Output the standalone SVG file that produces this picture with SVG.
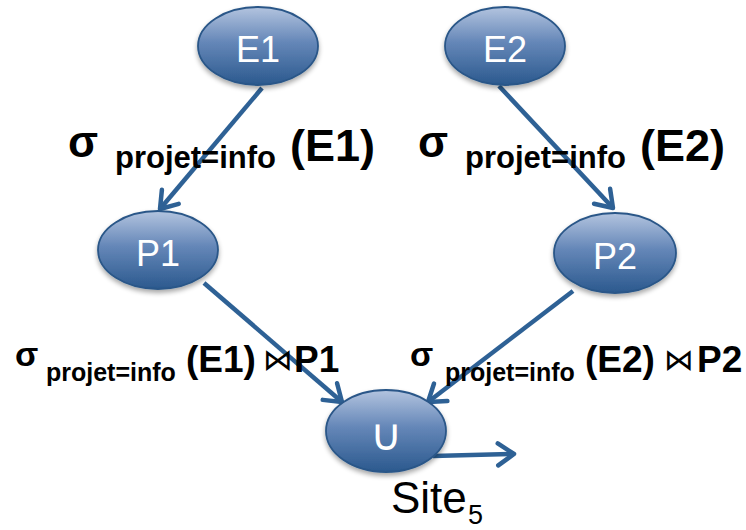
<svg xmlns="http://www.w3.org/2000/svg" width="746" height="530" viewBox="0 0 746 530">
  <defs>
    <linearGradient id="nodeFill" x1="0" y1="0" x2="0" y2="1">
      <stop offset="0" stop-color="#b3c4df"/>
      <stop offset="0.45" stop-color="#6587b8"/>
      <stop offset="1" stop-color="#2b598e"/>
    </linearGradient>
    <filter id="shadow" x="-20%" y="-20%" width="140%" height="150%">
      <feGaussianBlur in="SourceAlpha" stdDeviation="2.5"/>
      <feOffset dx="0" dy="3" result="b"/>
      <feComponentTransfer><feFuncA type="linear" slope="0.35"/></feComponentTransfer>
      <feMerge><feMergeNode/><feMergeNode in="SourceGraphic"/></feMerge>
    </filter>
    <marker id="chevron" markerUnits="userSpaceOnUse" viewBox="-22 -16 26 32" markerWidth="26" markerHeight="32" refX="0" refY="0" orient="auto">
      <path d="M-16,-11 L0,0 L-16,11" fill="none" stroke="#2e6195" stroke-width="4.5" stroke-linecap="round" stroke-linejoin="round"/>
    </marker>
  </defs>
  <style>
    .node ellipse { fill: url(#nodeFill); stroke: #2a5788; stroke-width: 1.8; filter: url(#shadow); }
    .node text { font-family: "Liberation Sans", Arial, sans-serif; font-size: 36px; fill: #ffffff; text-anchor: middle; }
    .conn line { stroke: #2e6195; stroke-width: 4.5; marker-end: url(#chevron); }
    .lbl { font-family: "Liberation Sans", Arial, "DejaVu Sans", sans-serif; font-weight: bold; fill: #000000; }
    .join { font-family: "DejaVu Sans", sans-serif; font-weight: normal; }
  </style>

  <!-- connectors -->
  <g id="connectors" class="conn">
    <line x1="262" y1="88" x2="160" y2="209"/>
    <line x1="499" y1="86" x2="613" y2="208"/>
    <line x1="204" y1="283" x2="342" y2="402"/>
    <line x1="573" y1="291" x2="428" y2="402"/>
    <line x1="433" y1="456" x2="514" y2="454"/>
  </g>

  <!-- nodes -->
  <g id="E1" class="node">
    <ellipse cx="258" cy="46" rx="60" ry="39"/>
    <text x="258" y="62">E1</text>
  </g>
  <g id="E2" class="node">
    <ellipse cx="505" cy="46" rx="60" ry="39"/>
    <text x="505" y="62">E2</text>
  </g>
  <g id="P1" class="node">
    <ellipse cx="158" cy="250" rx="60" ry="39"/>
    <text x="158" y="266">P1</text>
  </g>
  <g id="P2" class="node">
    <ellipse cx="615" cy="253" rx="61" ry="40"/>
    <text x="615" y="269">P2</text>
  </g>
  <g id="U" class="node">
    <ellipse cx="386" cy="431" rx="60" ry="41"/>
    <text x="386" y="450" style="font-family: 'DejaVu Sans', sans-serif; font-weight: 200; font-size: 44px;">∪</text>
  </g>

  <!-- edge labels -->
  <g id="labels">
    <text class="lbl" x="68" y="157" font-size="44">σ</text>
    <text class="lbl" x="115" y="168" font-size="31">projet=info</text>
    <text class="lbl" x="290" y="161" font-size="45">(E1)</text>

    <text class="lbl" x="418" y="157" font-size="44">σ</text>
    <text class="lbl" x="465" y="168" font-size="31">projet=info</text>
    <text class="lbl" x="640" y="161" font-size="45">(E2)</text>

    <text class="lbl" x="15" y="366" font-size="34">σ</text>
    <text class="lbl" x="46" y="381" font-size="25">projet=info</text>
    <text class="lbl" x="186" y="372" font-size="37">(E1)</text>
    <text class="lbl join" x="263" y="370" font-size="30">⋈</text>
    <text class="lbl" x="294" y="372" font-size="37">P1</text>

    <text class="lbl" x="410" y="366" font-size="34">σ</text>
    <text class="lbl" x="445" y="381" font-size="25">projet=info</text>
    <text class="lbl" x="585" y="372" font-size="37">(E2)</text>
    <text class="lbl join" x="664" y="370" font-size="30">⋈</text>
    <text class="lbl" x="697" y="372" font-size="37">P2</text>

    <text x="391" y="513" font-family="Liberation Sans, Arial, sans-serif" font-size="44" fill="#000000">Site<tspan x="468" y="524" font-size="27">5</tspan></text>
  </g>
</svg>
